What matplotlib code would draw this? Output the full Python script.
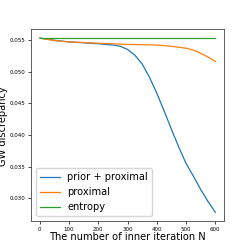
import matplotlib
matplotlib.use("Agg")
import matplotlib.pyplot as plt

# values
iters_prior = [0, 50, 100, 150, 200, 250, 275, 300, 325, 350, 375, 400,
               425, 450, 475, 500, 525, 550, 575, 600]
gw_prior = [0.0553, 0.05495, 0.0547, 0.05455, 0.0544, 0.0542, 0.0540,
            0.0535, 0.0526, 0.0512, 0.0491, 0.0466, 0.0438, 0.0409,
            0.0381, 0.0355, 0.0335, 0.0314, 0.0295, 0.0278]

iters_prox = [0, 50, 100, 150, 200, 250, 300, 350, 400, 450, 500, 525,
              550, 575, 600]
gw_prox = [0.0553, 0.0549, 0.05468, 0.0546, 0.05448, 0.0544, 0.0543,
           0.05425, 0.0542, 0.0540, 0.0537, 0.0534, 0.0529, 0.0523, 0.0516]

iters_ent = [0, 600]
gw_ent = [0.05535, 0.05535]

fig = plt.figure(figsize=(2.49, 2.49), dpi=100)
ax = fig.add_axes([0.1245, 0.1124, 0.7755, 0.7711])

ax.plot(iters_prior, gw_prior, label='prior + proximal', lw=0.9)
ax.plot(iters_prox, gw_prox, label='proximal', lw=0.9)
ax.plot(iters_ent, gw_ent, label='entropy', lw=0.9)

ax.set_xticks([0, 100, 200, 300, 400, 500, 600])
ax.set_yticks([0.030, 0.035, 0.040, 0.045, 0.050, 0.055])
ax.tick_params(labelsize=4, length=2, width=0.5, pad=2)
ax.set_xlabel('The number of inner iteration N', fontsize=7.1, labelpad=0)
ax.set_ylabel('GW discrepancy', fontsize=7.1)
ax.yaxis.set_label_coords(-0.117, 0.495)
for s in ax.spines.values():
    s.set_linewidth(0.6)
    s.set_color('#444444')

ax.legend(loc='lower left', fontsize=7.1, handlelength=2)

fig.savefig('out.png', dpi=100)
